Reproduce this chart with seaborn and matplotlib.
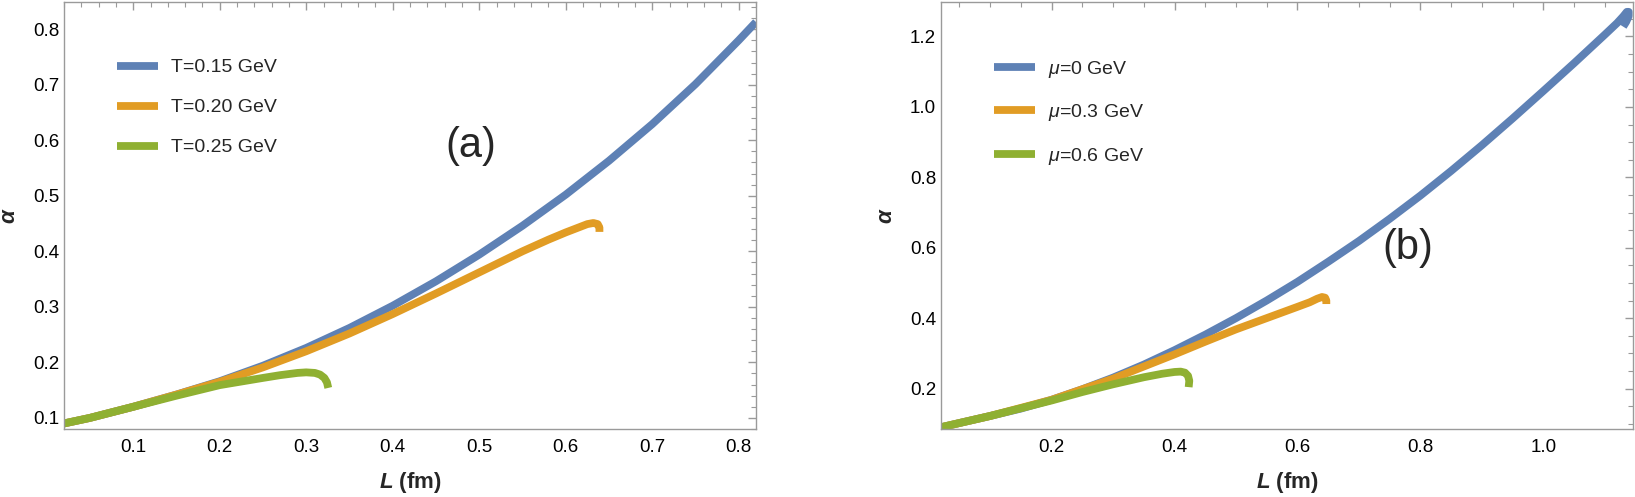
import matplotlib
matplotlib.use("Agg")
import matplotlib.pyplot as plt
from matplotlib.ticker import MultipleLocator, FormatStrFormatter
import seaborn as sns

sns.set_theme(style="white")
plt.rcParams["font.family"] = ["Liberation Sans", "DejaVu Sans"]
plt.rcParams["mathtext.fontset"] = "custom"
plt.rcParams["mathtext.rm"] = "Liberation Sans"
plt.rcParams["mathtext.it"] = "Liberation Sans:italic"
plt.rcParams["mathtext.bf"] = "Liberation Sans:bold"
plt.rcParams["mathtext.bfit"] = "Liberation Sans:bold:italic"

BLUE, ORANGE, GREEN = "#5E81B5", "#E19C24", "#8FB032"
FRAME = "#9a9a9a"

# panel (a): varying T
L_a_015 = [0.02, 0.05, 0.10, 0.15, 0.20, 0.25, 0.30, 0.35, 0.40, 0.45, 0.50,
           0.55, 0.60, 0.65, 0.70, 0.75, 0.80, 0.82]
alpha_a_015 = [0.090, 0.100, 0.120, 0.142, 0.166, 0.194, 0.226, 0.262, 0.302,
               0.346, 0.394, 0.446, 0.502, 0.563, 0.629, 0.701, 0.780, 0.813]
L_a_020 = [0.02, 0.05, 0.10, 0.15, 0.20, 0.25, 0.30, 0.35, 0.40, 0.45, 0.50,
           0.55, 0.58, 0.60, 0.615, 0.625, 0.632, 0.637, 0.639, 0.639]
alpha_a_020 = [0.090, 0.100, 0.120, 0.142, 0.165, 0.191, 0.220, 0.252, 0.287,
               0.324, 0.362, 0.400, 0.421, 0.434, 0.443, 0.449, 0.451, 0.449,
               0.443, 0.435]
L_a_025 = [0.02, 0.05, 0.10, 0.15, 0.20, 0.25, 0.27, 0.29, 0.30, 0.31, 0.316,
           0.321, 0.324, 0.3255]
alpha_a_025 = [0.090, 0.100, 0.120, 0.140, 0.159, 0.172, 0.177, 0.181, 0.182,
               0.181, 0.178, 0.172, 0.164, 0.154]

# panel (b): varying mu
L_b_0 = [0.02, 0.10, 0.15, 0.20, 0.25, 0.30, 0.35, 0.40, 0.45, 0.50, 0.55,
         0.60, 0.65, 0.70, 0.75, 0.80, 0.85, 0.90, 0.95, 1.00, 1.05, 1.10,
         1.12, 1.13, 1.136, 1.139, 1.139, 1.135, 1.130]
alpha_b_0 = [0.090, 0.122, 0.143, 0.168, 0.198, 0.231, 0.268, 0.309, 0.353,
             0.400, 0.450, 0.503, 0.560, 0.619, 0.682, 0.748, 0.818, 0.891,
             0.967, 1.045, 1.124, 1.205, 1.238, 1.257, 1.270, 1.270, 1.258,
             1.242, 1.228]
L_b_03 = [0.02, 0.10, 0.20, 0.30, 0.40, 0.45, 0.50, 0.55, 0.60, 0.62, 0.632,
          0.640, 0.645, 0.647, 0.647]
alpha_b_03 = [0.090, 0.122, 0.168, 0.228, 0.297, 0.333, 0.368, 0.400, 0.432,
              0.445, 0.455, 0.460, 0.458, 0.450, 0.440]
L_b_06 = [0.02, 0.10, 0.20, 0.25, 0.30, 0.35, 0.38, 0.40, 0.41, 0.417, 0.422,
          0.424, 0.423]
alpha_b_06 = [0.090, 0.122, 0.166, 0.190, 0.212, 0.232, 0.242, 0.247, 0.248,
              0.245, 0.236, 0.222, 0.204]

labels_a = ["T=0.15 GeV", "T=0.20 GeV", "T=0.25 GeV"]
labels_b = [r"$\mu$=0 GeV", r"$\mu$=0.3 GeV", r"$\mu$=0.6 GeV"]


def style_axes(ax, xmaj, xmin, ymaj, ymin):
    for s in ax.spines.values():
        s.set_color(FRAME)
        s.set_linewidth(1.0)
    ax.xaxis.set_major_locator(MultipleLocator(xmaj))
    ax.xaxis.set_minor_locator(MultipleLocator(xmin))
    ax.yaxis.set_major_locator(MultipleLocator(ymaj))
    ax.yaxis.set_minor_locator(MultipleLocator(ymin))
    ax.tick_params(which="both", direction="in", top=True, right=True,
                   color=FRAME, labelsize=13.5, labelcolor="black")
    ax.tick_params(which="major", length=6, width=1.0)
    ax.tick_params(which="minor", length=3.5, width=0.8)
    ax.tick_params(axis="x", pad=7)
    ax.set_xlabel(r"$\mathbfit{L}$ (fm)", fontsize=16, fontweight="bold", labelpad=10)
    ax.set_ylabel(r"$\mathbfit{\alpha}$", fontsize=16, fontweight="bold", labelpad=9)


def draw(ax, series, labels):
    for (L, a), lab, c in zip(series, labels, [BLUE, ORANGE, GREEN]):
        sns.lineplot(x=L, y=a, sort=False, estimator=None, color=c, lw=5.6,
                     label=lab, ax=ax, solid_capstyle="butt",
                     solid_joinstyle="round")
    ax.legend(loc="upper left", bbox_to_anchor=(0.065, 0.885), frameon=False,
              fontsize=14, handlelength=2.1, handletextpad=0.7,
              labelspacing=1.15, borderaxespad=0)


fig = plt.figure(figsize=(16.35, 4.97), dpi=100)
ax1 = fig.add_axes([64 / 1635, 68 / 497, 692 / 1635, 427 / 497])
ax2 = fig.add_axes([941 / 1635, 68 / 497, 692 / 1635, 427 / 497])

draw(ax1, [(L_a_015, alpha_a_015), (L_a_020, alpha_a_020), (L_a_025, alpha_a_025)], labels_a)
ax1.set_xlim(0.02, 0.82)
ax1.set_ylim(0.08, 0.849)
style_axes(ax1, 0.1, 0.02, 0.1, 0.02)
ax1.text(0.49, 0.59, "(a)", fontsize=30, ha="center", va="center")

draw(ax2, [(L_b_0, alpha_b_0), (L_b_03, alpha_b_03), (L_b_06, alpha_b_06)], labels_b)
ax2.set_xlim(0.02, 1.146)
ax2.set_ylim(0.085, 1.298)
style_axes(ax2, 0.2, 0.05, 0.2, 0.05)
ax2.yaxis.set_major_formatter(FormatStrFormatter("%.1f"))
ax2.xaxis.set_major_formatter(FormatStrFormatter("%.1f"))
ax2.text(0.78, 0.60, "(b)", fontsize=30, ha="center", va="center")

fig.savefig("out.png", dpi=100)
